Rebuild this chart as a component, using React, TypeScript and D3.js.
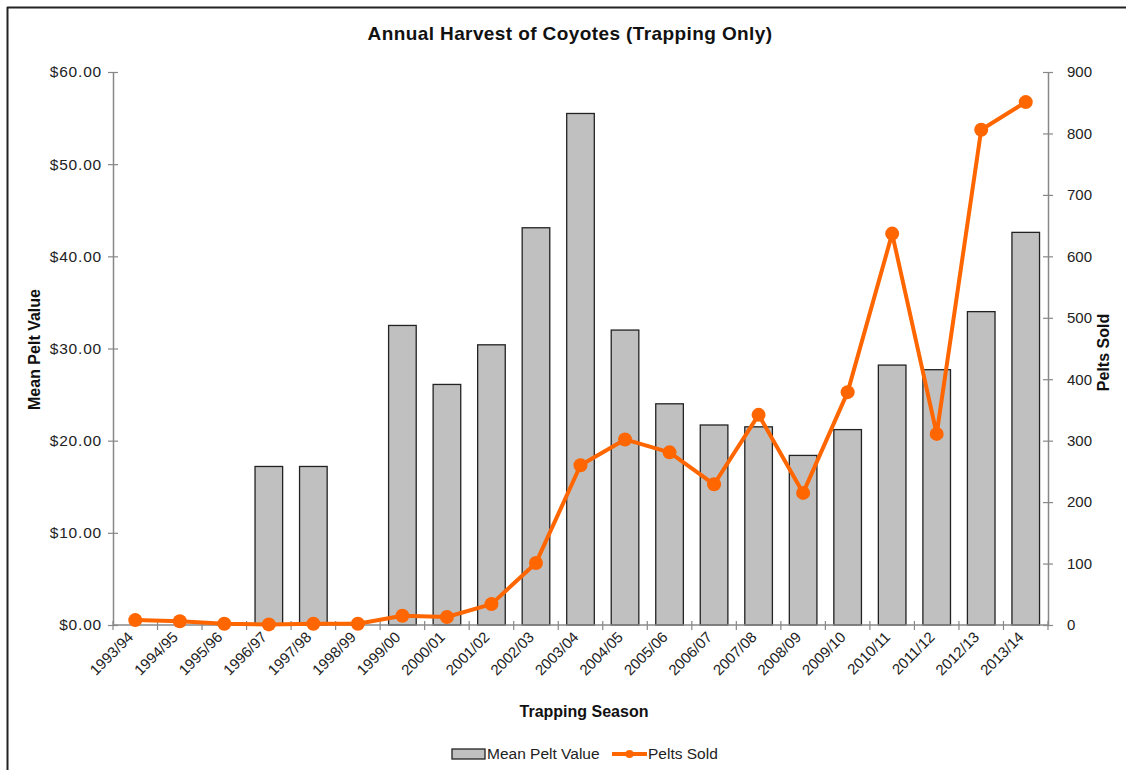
import React, { useRef, useEffect } from 'react';
import * as d3 from 'd3';

// --- Data ---
const seasons = [
  '1993/94', '1994/95', '1995/96', '1996/97', '1997/98', '1998/99', '1999/00',
  '2000/01', '2001/02', '2002/03', '2003/04', '2004/05', '2005/06', '2006/07',
  '2007/08', '2008/09', '2009/10', '2010/11', '2011/12', '2012/13', '2013/14',
];
const meanPeltValue = [
  0, 0, 0, 17.2, 17.2, 0, 32.5, 26.1, 30.4, 43.1, 55.5, 32.0, 24.0, 21.7,
  21.5, 18.4, 21.2, 28.2, 27.7, 34.0, 42.6,
];
const peltsSold = [
  8, 6, 2, 1, 2, 2, 15, 13, 34, 101, 260, 302, 281, 229,
  342, 215, 379, 637, 311, 806, 851,
];
const leftTicks = [0, 10, 20, 30, 40, 50, 60];
const rightTicks = [0, 100, 200, 300, 400, 500, 600, 700, 800, 900];

const FONT = 'Arial, "Liberation Sans", sans-serif';
const ORANGE = '#ff6600';

const App = () => {
  const svgRef = useRef<SVGSVGElement>(null);
  const width = 1126;
  const height = 770;

  useEffect(() => {
    // plot area
    const left = 113;
    const right = 1048;
    const top = 72;
    const bottom = 625;

    const svg = d3.select(svgRef.current)
      .attr('width', width)
      .attr('height', height)
      .html('');

    svg.append('rect').attr('width', width).attr('height', height).attr('fill', '#fff');

    // outer frame (top + left only visible)
    svg.append('line').attr('x1', 7).attr('x2', width).attr('y1', 7.5).attr('y2', 7.5)
      .attr('stroke', '#222').attr('stroke-width', 2);
    svg.append('line').attr('x1', 7.5).attr('x2', 7.5).attr('y1', 7).attr('y2', height)
      .attr('stroke', '#222').attr('stroke-width', 2);

    // --- Scales ---
    const x = d3.scaleBand().domain(seasons).range([left, right]).paddingInner(0.38).paddingOuter(0.19);
    const xPoint = (s: string) => (x(s) as number) + x.bandwidth() / 2;
    const yLeft = d3.scaleLinear().domain([0, 60]).range([bottom, top]);
    const yRight = d3.scaleLinear().domain([0, 900]).range([bottom, top]);

    // --- Bars ---
    svg.append('g')
      .selectAll('rect')
      .data(seasons.map((s, i) => ({ s, v: meanPeltValue[i] })).filter(d => d.v > 0))
      .join('rect')
      .attr('x', d => x(d.s) as number)
      .attr('y', d => yLeft(d.v))
      .attr('width', x.bandwidth())
      .attr('height', d => bottom - yLeft(d.v))
      .attr('fill', '#c0c0c0')
      .attr('stroke', '#222')
      .attr('stroke-width', 1.3);

    // --- Axes ---
    const axisColor = '#888';
    const step = (right - left) / seasons.length;

    const leftAxis = svg.append('g').attr('transform', `translate(${left},0)`)
      .call(d3.axisLeft(yLeft).tickValues(leftTicks).tickSize(0).tickFormat(d => `$${(+d).toFixed(2)}`));
    leftAxis.select('.domain').attr('stroke', axisColor).attr('stroke-width', 1.5);
    leftAxis.selectAll('.tick text').attr('x', -11).attr('fill', '#222')
      .style('font-family', FONT).style('font-size', '15.5px').style('letter-spacing', '0.8px');
    leftAxis.selectAll('.tick').append('line').attr('x1', -5).attr('x2', 5)
      .attr('stroke', axisColor).attr('stroke-width', 1.2);

    const rightAxis = svg.append('g').attr('transform', `translate(${right},0)`)
      .call(d3.axisRight(yRight).tickValues(rightTicks).tickSize(0));
    rightAxis.select('.domain').attr('stroke', axisColor).attr('stroke-width', 1.5);
    rightAxis.selectAll('.tick text').attr('x', 19).attr('fill', '#222')
      .style('font-family', FONT).style('font-size', '15px');
    rightAxis.selectAll('.tick').append('line').attr('x1', -5).attr('x2', 5)
      .attr('stroke', axisColor).attr('stroke-width', 1.2);

    // x axis line with ticks at category boundaries
    svg.append('line').attr('x1', left).attr('x2', right).attr('y1', bottom).attr('y2', bottom)
      .attr('stroke', axisColor).attr('stroke-width', 1.5);
    svg.append('g').selectAll('line')
      .data(d3.range(seasons.length + 1))
      .join('line')
      .attr('x1', i => left + i * step).attr('x2', i => left + i * step)
      .attr('y1', bottom - 4).attr('y2', bottom + 5)
      .attr('stroke', axisColor).attr('stroke-width', 1.2);

    svg.append('g').selectAll('text')
      .data(seasons)
      .join('text')
      .attr('transform', s => `translate(${xPoint(s) - 1},${bottom + 13}) rotate(-45)`)
      .attr('text-anchor', 'end')
      .attr('fill', '#222')
      .style('font-family', FONT).style('font-size', '15px')
      .text(s => s);

    // --- Line ---
    const lineGen = d3.line<number>()
      .x((d, i) => xPoint(seasons[i]))
      .y(d => yRight(d));
    svg.append('path')
      .datum(peltsSold)
      .attr('fill', 'none')
      .attr('stroke', ORANGE)
      .attr('stroke-width', 4)
      .attr('stroke-linejoin', 'round')
      .attr('d', lineGen);
    svg.append('g').selectAll('circle')
      .data(peltsSold)
      .join('circle')
      .attr('cx', (d, i) => xPoint(seasons[i]))
      .attr('cy', d => yRight(d))
      .attr('r', 7)
      .attr('fill', ORANGE);

    // --- Titles ---
    svg.append('text').attr('x', 570).attr('y', 40).attr('text-anchor', 'middle')
      .style('font-family', FONT).style('font-size', '19px').style('font-weight', 'bold')
      .style('letter-spacing', '0.4px')
      .attr('fill', '#111').text('Annual Harvest of Coyotes (Trapping Only)');

    svg.append('text').attr('x', 584).attr('y', 717).attr('text-anchor', 'middle')
      .style('font-family', FONT).style('font-size', '16px').style('font-weight', 'bold')
      .attr('fill', '#111').text('Trapping Season');

    svg.append('text').attr('transform', `translate(40,${(top + bottom) / 2 + 1}) rotate(-90)`)
      .attr('text-anchor', 'middle')
      .style('font-family', FONT).style('font-size', '16px').style('font-weight', 'bold')
      .attr('fill', '#111').text('Mean Pelt Value');

    svg.append('text').attr('transform', `translate(1109,${(top + bottom) / 2 + 4}) rotate(-90)`)
      .attr('text-anchor', 'middle')
      .style('font-family', FONT).style('font-size', '16px').style('font-weight', 'bold')
      .attr('fill', '#111').text('Pelts Sold');

    // --- Legend ---
    const ly = 754;
    svg.append('rect').attr('x', 452).attr('y', ly - 5).attr('width', 33).attr('height', 10)
      .attr('fill', '#c0c0c0').attr('stroke', '#222').attr('stroke-width', 1.3);
    svg.append('text').attr('x', 487).attr('y', ly + 5)
      .style('font-family', FONT).style('font-size', '15.5px').attr('fill', '#222')
      .text('Mean Pelt Value');
    svg.append('line').attr('x1', 612).attr('x2', 647).attr('y1', ly).attr('y2', ly)
      .attr('stroke', ORANGE).attr('stroke-width', 4);
    svg.append('circle').attr('cx', 629.5).attr('cy', ly).attr('r', 4).attr('fill', ORANGE);
    svg.append('text').attr('x', 648).attr('y', ly + 5)
      .style('font-family', FONT).style('font-size', '15.5px').attr('fill', '#222')
      .text('Pelts Sold');
  }, []);

  return (
    <svg ref={svgRef} style={{ position: 'absolute', left: 0, top: 0 }}></svg>
  );
};

export default App;
